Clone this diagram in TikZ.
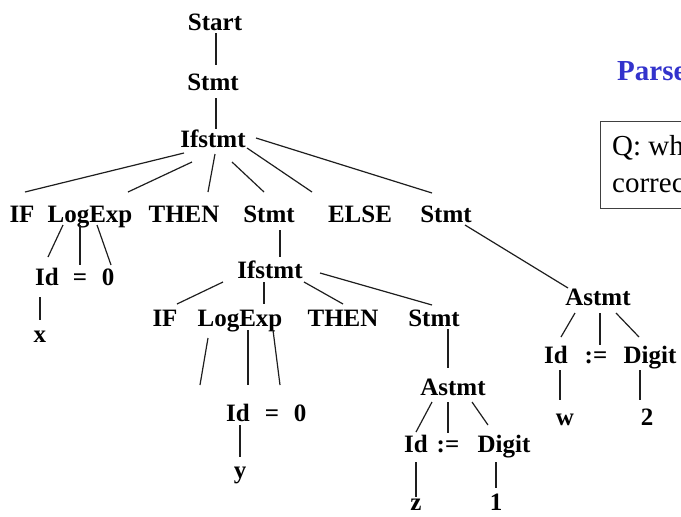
\documentclass[tikz,border=0pt]{standalone}
\usepackage{fontspec}
\setmainfont{Liberation Serif}
\usetikzlibrary{calc}
\definecolor{titleblue}{RGB}{51,51,204}
\definecolor{edgegray}{RGB}{30,30,30}
\tikzset{
  sym/.style={font=\bfseries\fontsize{25}{30}\selectfont, inner sep=0pt, anchor=base},
  edge/.style={draw=edgegray, line width=1.2pt},
  qtext/.style={font=\fontsize{29}{34}\selectfont, inner sep=0pt, anchor=base west},
  qframe/.style={draw=black!75, line width=1.2pt, anchor=north west,
                 minimum width=200pt, minimum height=87pt, inner sep=0pt},
}
% parent--child edge, each end given relative to the node's baseline point
\newcommand{\treeedge}[6]{%
  \draw[edge] ($(#1.base)+(#2,#3)$) -- ($(#4.base)+(#5,#6)$);}
\begin{document}
\begin{tikzpicture}[x=1pt, y=-1pt]
\useasboundingbox (0,0) rectangle (681,517);

% heading and question box
\node[sym, anchor=base west, text=titleblue, font=\bfseries\fontsize{29}{33}\selectfont] (title) at (617,80) {Parse};
\node[qframe] (qbox) at (600,121) {};
\node[qtext] (q1) at (612,155) {Q: wh};
\node[qtext] (q2) at (612,192) {correc};

% top of the tree
\node[sym] (start) at (215,30) {Start};
\node[sym] (stmt0) at (213,90) {Stmt};
\node[sym] (ifs) at (213,147) {Ifstmt};

% children of the outer Ifstmt
\node[sym] (if1) at (22,222) {IF};
\node[sym] (lexp1) at (90,222) {LogExp};
\node[sym] (then1) at (184,222) {THEN};
\node[sym] (stmt1) at (269,222) {Stmt};
\node[sym] (else1) at (360,222) {ELSE};
\node[sym] (stmt2) at (446,222) {Stmt};

% first condition
\node[sym] (id1) at (47,285) {Id};
\node[sym] (eq1) at (80,285) {=};
\node[sym] (zero1) at (108,285) {0};
\node[sym] (x1) at (40,342) {x};

% inner Ifstmt
\node[sym] (ifs2) at (270,278) {Ifstmt};
\node[sym] (if2) at (165,326) {IF};
\node[sym] (lexp2) at (240,326) {LogExp};
\node[sym] (then2) at (343,326) {THEN};
\node[sym] (stmt3) at (434,326) {Stmt};

% second condition
\node[sym] (id2) at (238,421) {Id};
\node[sym] (eq2) at (272,421) {=};
\node[sym] (zero2) at (300,421) {0};
\node[sym] (y2) at (240,478) {y};

% assignment z := 1
\node[sym] (ast1) at (453,395) {Astmt};
\node[sym] (id3) at (416,452) {Id};
\node[sym] (asg1) at (448,452) {:=};
\node[sym] (dig1) at (504,452) {Digit};
\node[sym] (z3) at (416,510) {z};
\node[sym] (one) at (496,510) {1};

% assignment w := 2
\node[sym] (ast2) at (598,305) {Astmt};
\node[sym] (id4) at (556,363) {Id};
\node[sym] (asg2) at (596,363) {:=};
\node[sym] (dig2) at (650,363) {Digit};
\node[sym] (w4) at (565,425) {w};
\node[sym] (two) at (647,425) {2};

% edges
\treeedge{start}{1}{3}{stmt0}{3}{-25}
\treeedge{stmt0}{3}{8}{ifs}{3}{-18}
\treeedge{ifs}{-29}{6}{if1}{3}{-30}
\treeedge{ifs}{-21}{15}{lexp1}{38}{-30}
\treeedge{ifs}{2}{7}{then1}{24}{-30}
\treeedge{ifs}{19}{15}{stmt1}{-5}{-30}
\treeedge{ifs}{34}{1}{else1}{-48}{-30}
\treeedge{ifs}{43}{-9}{stmt2}{-14}{-29}
\treeedge{lexp1}{-27}{3}{id1}{1}{-28}
\treeedge{lexp1}{-10}{3}{eq1}{0}{-20}
\treeedge{lexp1}{7}{3}{zero1}{3}{-20}
\treeedge{id1}{-7}{12}{x1}{0}{-22}
\treeedge{stmt1}{11}{8}{ifs2}{10}{-21}
\treeedge{ifs2}{-47}{4}{if2}{12}{-22}
\treeedge{ifs2}{-6}{4}{lexp2}{24}{-22}
\treeedge{ifs2}{34}{4}{then2}{0}{-22}
\treeedge{ifs2}{50}{-5}{stmt3}{-2}{-21}
\treeedge{lexp2}{-32}{12}{id2}{-38}{-36}
\treeedge{lexp2}{8}{4}{eq2}{-24}{-36}
\treeedge{lexp2}{33}{4}{zero2}{-20}{-36}
\treeedge{id2}{2}{4}{y2}{0}{-21}
\treeedge{stmt3}{14}{3}{ast1}{-5}{-27}
\treeedge{ast1}{-21}{7}{id3}{0}{-20}
\treeedge{ast1}{-5}{7}{asg1}{0}{-19}
\treeedge{ast1}{19}{7}{dig1}{-16}{-27}
\treeedge{id3}{0}{10}{z3}{0}{-13}
\treeedge{dig1}{-8}{10}{one}{0}{-22}
\treeedge{stmt2}{19}{3}{ast2}{-30}{-17}
\treeedge{ast2}{-23}{8}{id4}{5}{-26}
\treeedge{ast2}{2}{8}{asg2}{4}{-18}
\treeedge{ast2}{18}{8}{dig2}{-11}{-26}
\treeedge{id4}{4}{7}{w4}{-5}{-25}
\treeedge{dig2}{-10}{7}{two}{-7}{-25}
\end{tikzpicture}
\end{document}
